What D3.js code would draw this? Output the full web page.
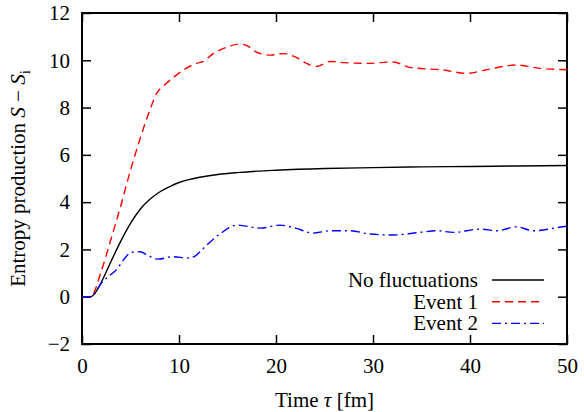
<!DOCTYPE html>
<html>
<head>
<meta charset="utf-8">
<script src="https://cdn.jsdelivr.net/npm/d3@7"></script>
<style>
  svg, svg text, svg tspan { font-family: "Liberation Serif" !important; }
</style>
</head>
<body style="margin:0">
<div id="wrapper"></div>
<script>
const width = 584,
    height = 412,
    plotLeft = 82, plotRight = 567, plotTop = 13, plotBottom = 344;
const FONT = 'Liberation Serif';

// time values and entropy production
const tNone = [0, 0.9, 1.5, 2, 3, 4, 5, 6, 7, 8, 9, 10, 11, 12, 14, 16, 18, 20, 25, 30, 35, 40, 45, 50];
const sNone = [0, 0, 0.25, 0.62, 1.5, 2.35, 3.1, 3.7, 4.12, 4.43, 4.65, 4.83, 4.95, 5.04, 5.17, 5.25, 5.31, 5.35, 5.42, 5.46, 5.49, 5.51, 5.53, 5.55];

const tEv1 = [0, 0.9, 2, 3, 4, 5, 6, 7, 7.7, 8.5, 9.5, 10.5, 11.8, 12.5, 13.5, 14.9, 16.3, 17, 18, 19.4, 20.75, 22.1, 23, 24.2, 25.6, 27, 29.4, 32.1, 33.8, 37.2, 39.7, 41.7, 44.8, 47.2, 50];
const sEv1 = [0, 0, 1.1, 2.45, 3.85, 5.35, 6.7, 7.9, 8.6, 8.95, 9.3, 9.6, 9.87, 9.95, 10.27, 10.55, 10.69, 10.62, 10.34, 10.22, 10.28, 10.12, 9.9, 9.74, 9.95, 9.9, 9.87, 9.93, 9.7, 9.59, 9.45, 9.6, 9.8, 9.66, 9.6];

const tEv2 = [0, 0.9, 2.06, 3.44, 5.15, 6.0, 6.87, 7.9, 9.3, 11.0, 11.7, 12.4, 14.2, 16, 18.4, 20.4, 22.1, 23.8, 25.6, 27.6, 29.7, 32.1, 34.8, 36.6, 38.3, 41, 42.8, 44.8, 46.5, 49.6, 50];
const sEv2 = [0, 0, 0.61, 1.1, 1.88, 1.9, 1.73, 1.59, 1.69, 1.64, 1.73, 2.0, 2.65, 3.03, 2.9, 3.03, 2.89, 2.69, 2.79, 2.79, 2.65, 2.61, 2.72, 2.79, 2.72, 2.86, 2.79, 2.96, 2.79, 2.96, 2.98];

const xTicks = [0, 10, 20, 30, 40, 50];
const yTicks = [-2, 0, 2, 4, 6, 8, 10, 12];

const seriesNames = ["No fluctuations", "Event 1", "Event 2"];
const seriesColors = ["#000000", "#ff0000", "#0000ff"];
const seriesDash = [null, "8,5", "9,4,2,4"];

const series = [
    tNone.map((t, i) => [t, sNone[i]]),
    tEv1.map((t, i) => [t, sEv1[i]]),
    tEv2.map((t, i) => [t, sEv2[i]])
];

const x = d3.scaleLinear().domain([0, 50]).range([plotLeft, plotRight]);
const y = d3.scaleLinear().domain([-2, 12]).range([plotBottom, plotTop]);

const svg = d3.select('#wrapper').append('svg')
    .attr('width', width)
    .attr('height', height)
    .attr('font-family', FONT);

const tickLen = 9;

// axes, ticks pointing inward on all four sides
svg.append('g').attr('transform', `translate(0,${plotBottom})`)
    .call(d3.axisBottom(x).tickValues(xTicks).tickSize(-tickLen).tickPadding(14).tickFormat(d3.format('d')));
svg.append('g').attr('transform', `translate(0,${plotTop})`)
    .call(d3.axisTop(x).tickValues(xTicks).tickSize(-tickLen).tickFormat(''));
svg.append('g').attr('transform', `translate(${plotLeft},0)`)
    .call(d3.axisLeft(y).tickValues(yTicks).tickSize(-tickLen).tickPadding(12).tickFormat(d => d < 0 ? '\u2212' + Math.abs(d) : d));
svg.append('g').attr('transform', `translate(${plotRight},0)`)
    .call(d3.axisRight(y).tickValues(yTicks).tickSize(-tickLen).tickFormat(''));

svg.selectAll('g').attr('font-family', FONT).attr('font-size', null);
svg.selectAll('.domain').remove();
svg.selectAll('.tick line').attr('stroke', '#000').attr('stroke-width', 1.5);
svg.selectAll('.tick text')
    .attr('font-size', 21)
    .attr('fill', '#000');

// frame
svg.append('rect')
    .attr('x', plotLeft).attr('y', plotTop)
    .attr('width', plotRight - plotLeft).attr('height', plotBottom - plotTop)
    .attr('fill', 'none').attr('stroke', '#000').attr('stroke-width', 2);

// curves
const line = d3.line()
    .x(d => x(d[0]))
    .y(d => y(d[1]))
    .curve(d3.curveMonotoneX);

svg.selectAll('.curve')
    .data(series)
    .enter()
    .append('path')
    .attr('class', 'curve')
    .attr('d', line)
    .attr('fill', 'none')
    .attr('stroke', (d, i) => seriesColors[i])
    .attr('stroke-width', 1.4)
    .attr('stroke-dasharray', (d, i) => seriesDash[i]);

// legend
const legend = svg.append('g');
seriesNames.forEach((name, i) => {
    const ly = 280 + i * 21.7;
    legend.append('text')
        .attr('x', 478).attr('y', ly + 7)
        .attr('text-anchor', 'end')
        .attr('font-size', 21)
        .text(name);
    legend.append('line')
        .attr('x1', 492).attr('x2', 544)
        .attr('y1', ly).attr('y2', ly)
        .attr('stroke', seriesColors[i])
        .attr('stroke-width', 1.4)
        .attr('stroke-dasharray', seriesDash[i]);
});

// axis titles
const xt = svg.append('text')
    .attr('x', (plotLeft + plotRight) / 2).attr('y', 407)
    .attr('text-anchor', 'middle')
    .attr('font-size', 21);
xt.append('tspan').text('Time ');
xt.append('tspan').attr('font-style', 'italic').text('\u03c4');
xt.append('tspan').text(' [fm]');

const yt = svg.append('text')
    .attr('transform', `translate(25,${(plotTop + plotBottom) / 2}) rotate(-90)`)
    .attr('text-anchor', 'middle')
    .attr('font-size', 21);
yt.append('tspan').text('Entropy production ');
yt.append('tspan').attr('font-style', 'italic').text('S');
yt.append('tspan').text(' \u2212 ');
yt.append('tspan').attr('font-style', 'italic').text('S');
yt.append('tspan').attr('font-size', 15).attr('dy', 5).text('i');

svg.selectAll('text').attr('font-family', FONT).style('font-family', FONT);
</script>
</body>
</html>
